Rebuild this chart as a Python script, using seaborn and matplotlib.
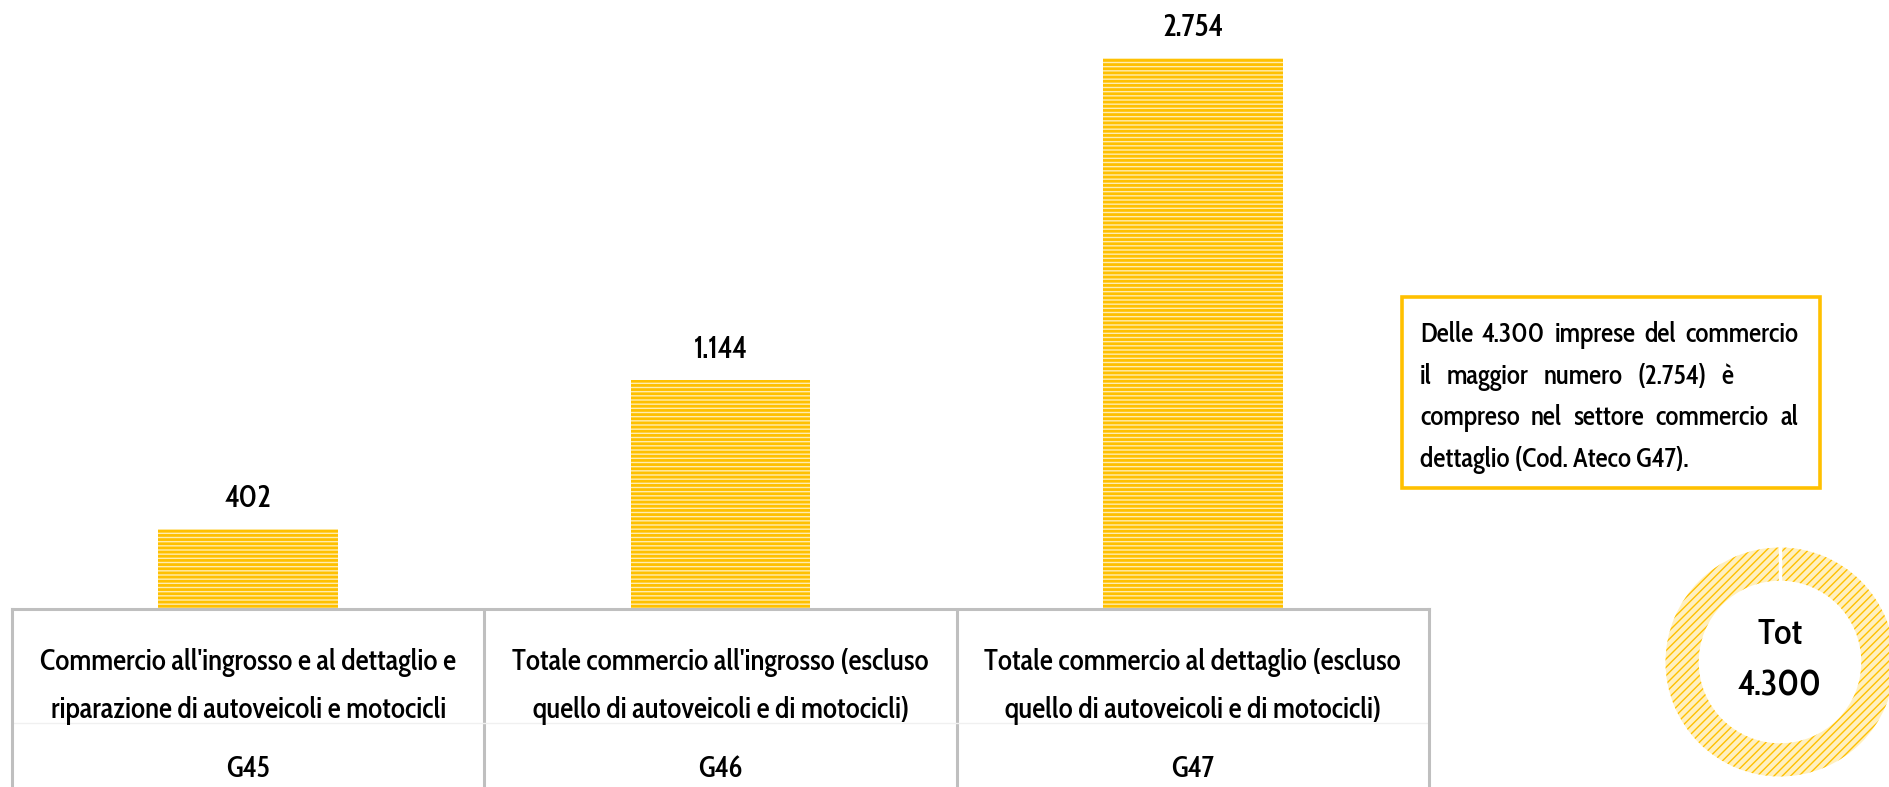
import matplotlib
matplotlib.use("Agg")
import matplotlib.pyplot as plt
import matplotlib.patches as mpatches
from matplotlib.transforms import IdentityTransform
import seaborn as sns

# dati
codici = ["G45", "G46", "G47"]
imprese = [402, 1144, 2754]
descrizione_riga1 = [
    "Commercio all'ingrosso e al dettaglio e",
    "Totale commercio all'ingrosso (escluso",
    "Totale commercio al dettaglio (escluso",
]
descrizione_riga2 = [
    "riparazione di autoveicoli e motocicli",
    "quello di autoveicoli e di motocicli)",
    "quello di autoveicoli e di motocicli)",
]
nota = [
    "Delle 4.300 imprese del commercio",
    "il maggior numero (2.754) è",
    "compreso nel settore commercio al",
    "dettaglio (Cod. Ateco G47).",
]
# bordo destro (px) delle righe giustificate, None = allineata a sinistra
nota_fine = [1798, 1733, 1798, None]

GIALLO = "#FFC000"
GRIGIO = "#BFBFBF"
W, H = 1889, 787


def fmt_it(n):
    return f"{n:,}".replace(",", ".")


def riga(fig, testo, x0, x1, y, **kw):
    # y in pixel dall'alto, testo giustificato tra x0 e x1
    yy = H - y
    r = fig.canvas.get_renderer()
    if x1 is not None:
        parole = testo.split()
        tt = [fig.text(0, yy, p, transform=IdentityTransform(), va="baseline", **kw) for p in parole]
        larg = [t.get_window_extent(r).width for t in tt]
        gap = (x1 - x0 - sum(larg)) / (len(parole) - 1)
        if gap > 4:
            x = x0
            for t, w in zip(tt, larg):
                t.set_x(x)
                x += w + gap
            return
        for t in tt:
            t.remove()
    fig.text(x0, yy, testo, transform=IdentityTransform(), va="baseline", **kw)


sns.set_style("white")
plt.rcParams["font.family"] = ["Cabin Condensed", "DejaVu Sans"]
plt.rcParams["font.weight"] = "medium"
plt.rcParams["text.color"] = "#000000"
plt.rcParams["hatch.linewidth"] = 2.0

fig = plt.figure(figsize=(W / 100, H / 100), dpi=100)

# barre
ax = fig.add_axes([12 / W, (H - 609) / H, 1417 / W, 609 / H])
sns.barplot(x=codici, y=imprese, color=GIALLO, saturation=1, width=0.38, ax=ax)
for p in ax.patches:
    p.set_facecolor("#FFEDB0")
    p.set_edgecolor(GIALLO)
    p.set_linewidth(0)
    p.set_hatch("----")
ax.bar_label(ax.containers[0], labels=[fmt_it(v) for v in imprese], padding=10, fontsize=22)
ax.set_xlim(-0.5, 2.5)
ax.set_ylim(0, 3045)
ax.set_axis_off()

# tabella etichette
axt = fig.add_axes([12 / W, 0, 1417 / W, (H - 609) / H])
axt.set_xlim(-0.5, 2.5)
axt.set_ylim(0, 1)
axt.set_xticks([])
axt.set_yticks([])
for s in ["left", "right", "top"]:
    axt.spines[s].set_color(GRIGIO)
    axt.spines[s].set_linewidth(2.2)
axt.spines["bottom"].set_visible(False)
for xv in [0.5, 1.5]:
    axt.axvline(xv, color=GRIGIO, lw=2.2)
axt.axhline(0.36, color="#F0F0F0", lw=1)
for i in range(len(codici)):
    axt.text(i, 0.70, descrizione_riga1[i], ha="center", va="center", fontsize=21)
    axt.text(i, 0.43, descrizione_riga2[i], ha="center", va="center", fontsize=21)
    axt.text(i, 0.10, codici[i], ha="center", va="center", fontsize=21)

# riquadro nota
fig.patches.append(mpatches.Rectangle((1402 / W, (H - 488) / H), 418 / W, 191 / H,
                                      transform=fig.transFigure, fill=False,
                                      edgecolor=GIALLO, linewidth=2.6))
for k, (testo, fine) in enumerate(zip(nota, nota_fine)):
    riga(fig, testo, 1420, fine, 342 + k * 41.7, fontsize=19.5)

# ciambella totale
plt.rcParams["hatch.linewidth"] = 1.0
axd = fig.add_axes([1660 / W, (H - 662 - 120) / H, 240 / W, 240 / H])
axd.pie([sum(imprese)], radius=1, startangle=90, counterclock=False, colors=["#FFF0C0"],
        wedgeprops=dict(width=0.29, edgecolor=GIALLO, linewidth=0, hatch="////"))
axd.plot([0, 0], [0.69, 1.02], color="white", lw=2.5)
axd.set_xlim(-1.048, 1.048)
axd.set_ylim(-1.048, 1.048)
axd.text(0, 0.236, "Tot", ha="center", va="center", fontsize=26)
axd.text(0, -0.218, fmt_it(sum(imprese)), ha="center", va="center", fontsize=26)

fig.savefig("out.png", dpi=100)
